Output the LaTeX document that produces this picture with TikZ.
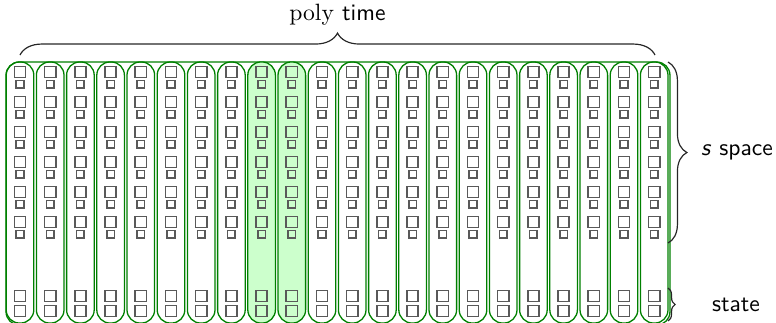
\documentclass[tikz,border=0pt]{standalone}
\usetikzlibrary{decorations.pathreplacing}
\begin{document}
\begin{tikzpicture}[x=0.424pt,y=-0.424pt,
  colbox/.style={draw=green!50!black, line width=0.55pt, rounded corners=5.6pt, inner sep=0pt,
                 minimum width=11.7pt, minimum height=110.7pt},
  hlbox/.style={colbox, fill=green!20},
  outerbox/.style={draw=green!50!black, line width=0.55pt, rounded corners=5.6pt, inner sep=0pt,
                 minimum width=281.5pt, minimum height=111.5pt},
  bigsq/.style={draw=black!65, line width=0.7pt, minimum size=4.8pt, inner sep=0pt},
  smallsq/.style={draw=black!65, line width=0.7pt, minimum size=3.2pt, inner sep=0pt},
  brc/.style={decorate, decoration={brace, amplitude=#1}, draw=black!85, line width=0.5pt},
  lbl/.style={font=\sffamily, inner sep=0pt}
]
\useasboundingbox (0,0) rectangle (776,322);
\node[outerbox] (outer) at (338,193.5) {};
\foreach \i in {0,...,21}{
  \pgfmathsetmacro\cx{20+30.2*\i}
  \ifnum\i=8 \node[hlbox] (col\i) at (\cx,192.5) {};
  \else\ifnum\i=9 \node[hlbox] (col\i) at (\cx,192.5) {};
  \else \node[colbox] (col\i) at (\cx,192.5) {};
  \fi\fi
  \foreach \k in {0,...,5}{
    \node[bigsq] (b\i-\k) at (\cx,72+30*\k) {};
    \node[smallsq] (s\i-\k) at (\cx,84.3+30*\k) {};
  }
  \node[bigsq] (t\i-1) at (\cx,296) {};
  \node[bigsq] (t\i-2) at (\cx,311) {};
}
\coordinate (tl) at (20,55);
\coordinate (tr) at (655,55);
\draw[brc=9.3pt] (tl) -- (tr);
\node[lbl] (polytime) at (337.5,15) {$\mathrm{poly}$ time};
\coordinate (sa) at (668,62);
\coordinate (sb) at (668,243);
\draw[brc=8pt] (sa) -- (sb);
\node[lbl] (space) at (737,152) {\textit{s} space};
\coordinate (ta) at (668,288);
\coordinate (tb) at (668,321);
\draw[brc=3pt] (ta) -- (tb);
\node[lbl] (state) at (736,305) {state};
\end{tikzpicture}
\end{document}
